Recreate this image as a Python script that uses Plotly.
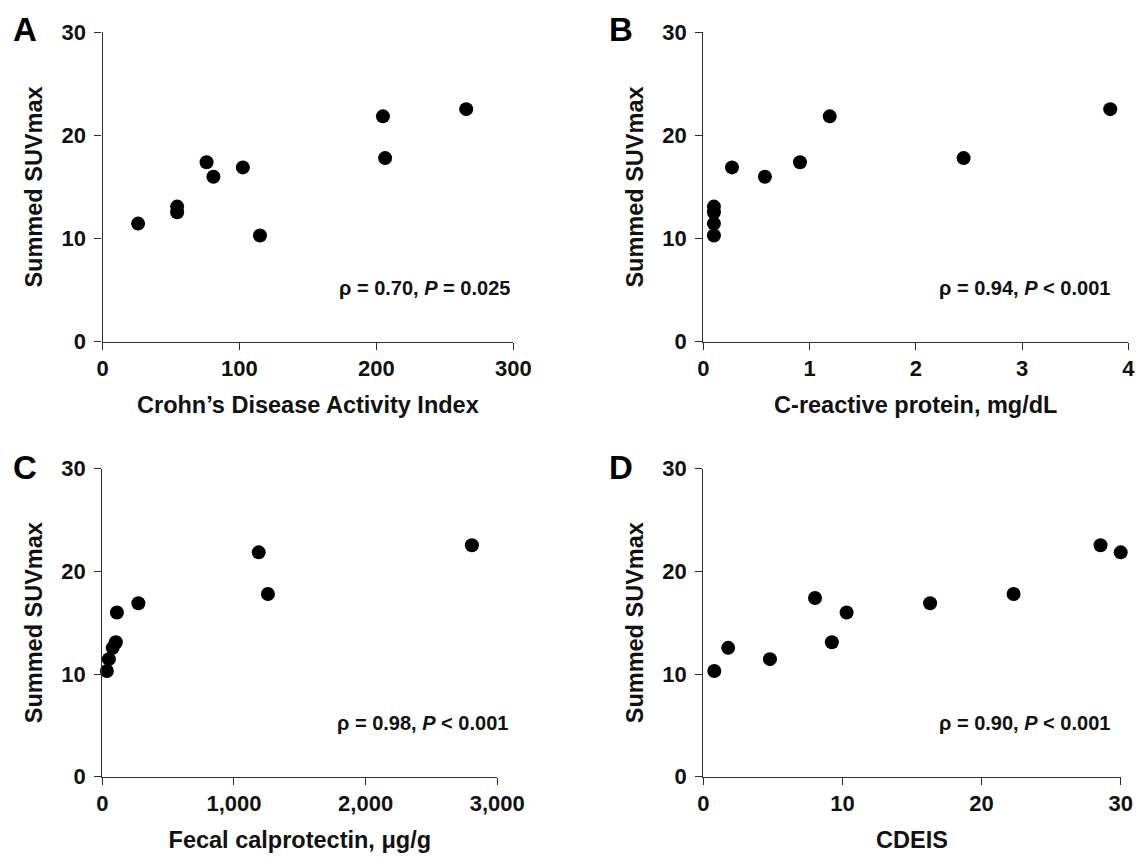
import plotly.graph_objects as go

# ---- data ----
suv_label = "Summed SUVmax"

cdai = [26, 54.5, 54.5, 76, 81, 102.5, 115, 204.8, 206.4, 265.6]
suv_cdai = [11.45, 12.55, 13.1, 17.4, 16.0, 16.9, 10.3, 21.85, 17.8, 22.55]

crp = [0.1, 0.1, 0.1, 0.1, 0.27, 0.58, 0.91, 1.19, 2.45, 3.83]
suv_crp = [13.1, 12.55, 11.45, 10.3, 16.9, 16.0, 17.4, 21.85, 17.8, 22.55]

fcp = [35, 50, 79, 103, 111, 274, 1188, 1258, 2807]
suv_fcp = [10.3, 11.45, 12.55, 13.1, 16.0, 16.9, 21.85, 17.8, 22.55]

cdeis = [0.79, 1.79, 4.79, 8.03, 9.24, 10.3, 16.3, 22.3, 28.55, 30.0]
suv_cdeis = [10.3, 12.55, 11.45, 17.4, 13.1, 16.0, 16.9, 17.8, 22.55, 21.85]

y_ticks = [0, 10, 20, 30]
a_ticks = [0, 100, 200, 300]
b_ticks = [0, 1, 2, 3, 4]
c_ticks = [0, 1000, 2000, 3000]
c_ticktext = ["0", "1,000", "2,000", "3,000"]
d_ticks = [0, 10, 20, 30]

panels = ["A", "B", "C", "D"]
x_titles = ["Crohn\u2019s Disease Activity Index", "C-reactive protein, mg/dL",
            "Fecal calprotectin, \u03bcg/g", "CDEIS"]
stats = ["\u03c1 = 0.70, <i>P</i> = 0.025", "\u03c1 = 0.94, <i>P</i> < 0.001",
         "\u03c1 = 0.98, <i>P</i> < 0.001", "\u03c1 = 0.90, <i>P</i> < 0.001"]

# ---- layout geometry (pixels of the 1143x861 target) ----
OFF = 8                       # page body margin
FW, FH = 1143 - OFF, 861 - OFF
FONT = "Arial, Liberation Sans, Helvetica, sans-serif"

def fx(p):
    return (p - OFF) / FW

def fy(p):
    return 1 - (p - OFF) / FH

boxes = [  # (x0, x1, ytop, ybottom) in px
    (102.5, 513.3, 32.3, 341.7),
    (703.3, 1128.3, 32.3, 341.7),
    (102.3, 497.3, 468.7, 776.7),
    (703.3, 1120.7, 468.7, 776.7),
]
xs = [cdai, crp, fcp, cdeis]
ys = [suv_cdai, suv_crp, suv_fcp, suv_cdeis]
xranges = [[0, 300], [0, 4], [0, 3000], [0, 30]]
xtickvals = [a_ticks, b_ticks, c_ticks, d_ticks]
xticktexts = [[str(v) for v in a_ticks], [str(v) for v in b_ticks], c_ticktext,
              [str(v) for v in d_ticks]]
stat_x = [0.997, 0.962, 1.032, 0.979]
letter_xy = [(25, 9), (621, 9), (25, 447), (621, 447)]

fig = go.Figure()
axis_color = "#2e2e2e"
tickfont = dict(family=FONT, size=22, color="#111111", weight="bold")
titlefont = dict(family=FONT, size=23.5, color="#111111", weight="bold")

for i in range(4):
    n = "" if i == 0 else str(i + 1)
    fig.add_trace(go.Scatter(
        x=xs[i], y=ys[i], mode="markers",
        marker=dict(size=14, color="black"),
        xaxis="x" + n, yaxis="y" + n, showlegend=False, cliponaxis=False,
    ))
    x0, x1, yt, yb = boxes[i]
    fig.layout["xaxis" + n] = dict(
        domain=[fx(x0), fx(x1)], range=xranges[i], anchor="y" + n,
        tickvals=xtickvals[i], ticktext=xticktexts[i],
        showgrid=False, zeroline=False, showline=True, linecolor=axis_color,
        linewidth=1.2, ticks="outside", ticklen=7, tickwidth=1.2,
        tickcolor=axis_color, tickfont=tickfont, automargin=False,
        title=dict(text=x_titles[i], font=titlefont, standoff=16),
    )
    fig.layout["yaxis" + n] = dict(
        domain=[fy(yb), fy(yt)], range=[0, 30], anchor="x" + n,
        tickvals=y_ticks, showgrid=False, zeroline=False, showline=True,
        linecolor=axis_color, linewidth=1.2, ticks="outside", ticklen=7,
        tickwidth=1.2, tickcolor=axis_color, tickfont=tickfont, automargin=False,
        ticklabelstandoff=4,
        title=dict(text=suv_label, font=titlefont, standoff=12),
    )
    fig.add_annotation(
        text=stats[i], xref="x" + n + " domain", yref="y" + n + " domain",
        x=stat_x[i], y=0.174, xanchor="right", yanchor="middle", showarrow=False,
        font=dict(family=FONT, size=20, color="#111111", weight="bold"),
    )
    lx, ly = letter_xy[i]
    fig.add_annotation(
        text=panels[i], xref="paper", yref="paper",
        x=fx(lx), y=fy(ly), xanchor="center", yanchor="top", showarrow=False,
        font=dict(family=FONT, size=33, color="black", weight="bold"),
    )

fig.update_layout(
    width=FW, height=FH, margin=dict(l=0, r=0, t=0, b=0),
    paper_bgcolor="white", plot_bgcolor="white",
)

fig.write_html("out.html")
